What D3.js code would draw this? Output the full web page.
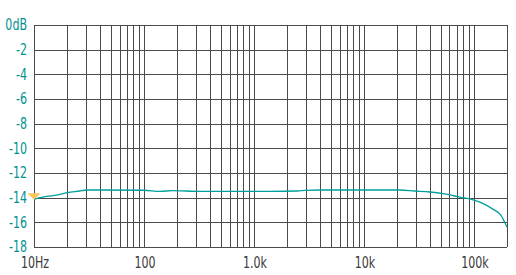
<!DOCTYPE html>
<html>
<head>
<meta charset="utf-8">
<script src="https://cdn.jsdelivr.net/npm/d3@7"></script>
<style>
  html, body { margin: 0; padding: 0; background: #fff; }
  svg { display: block; }
  text { font-family: "DejaVu Sans Condensed", "DejaVu Sans", sans-serif; font-size: 15px; }
</style>
</head>
<body>
<div id="chart"></div>
<script>
// response curve
const freqs = [10, 13, 16, 20, 26, 30, 40, 100, 140, 180, 320, 1400, 2500, 2900, 4000,
    21000, 29000, 40000, 54000, 74000, 100000, 123000, 150000, 175000, 200000];
const levels = [-14.13, -13.9, -13.8, -13.6, -13.46, -13.38, -13.38, -13.4, -13.49, -13.43, -13.49, -13.49, -13.46, -13.41, -13.38,
    -13.38, -13.46, -13.54, -13.7, -13.95, -14.19, -14.5, -14.95, -15.4, -16.4];
const dbTicks = [0, -2, -4, -6, -8, -10, -12, -14, -16, -18];
const freqLabels = [[10, '10Hz'], [100, '100'], [1000, '1.0k'], [10000, '10k'], [100000, '100k']];
const markerLevel = -14;

const width = 516, height = 275;
const margin = { top: 25, right: 9, bottom: 28, left: 34 };
const squeeze = 0.82; // the original font is narrow

const svg = d3.select('#chart').append('svg')
    .attr('width', width).attr('height', height);

const x = d3.scaleLog().domain([10, 200000]).range([margin.left, width - margin.right]);
const y = d3.scaleLinear().domain([-18, 0]).range([height - margin.bottom, margin.top]);

// grid: every 1..9 step per decade
const gridF = [];
for (let dec = 10; dec <= 100000; dec *= 10) {
    for (let k = 1; k <= 9; k++) if (dec * k <= 200000) gridF.push(dec * k);
}
gridF.push(200000);

const grid = svg.append('g').attr('stroke', '#4a4a4a').attr('stroke-width', 1).attr('shape-rendering', 'crispEdges');
grid.selectAll('line.v').data(gridF).enter().append('line')
    .attr('x1', (d) => Math.round(x(d)) + 0.5).attr('x2', (d) => Math.round(x(d)) + 0.5)
    .attr('y1', y(0)).attr('y2', y(-18));
grid.selectAll('line.h').data(dbTicks).enter().append('line')
    .attr('x1', x(10)).attr('x2', x(200000))
    .attr('y1', (d) => Math.round(y(d)) + 0.5).attr('y2', (d) => Math.round(y(d)) + 0.5);

// y labels
svg.append('g').selectAll('text').data(dbTicks).enter().append('text')
    .attr('transform', (d) => `translate(${margin.left - 7},${y(d)}) scale(${squeeze},1)`)
    .attr('dy', '0.36em')
    .attr('text-anchor', 'end')
    .attr('fill', '#00918f')
    .text((d) => d === 0 ? '0dB' : '-' + Math.abs(d));

// x labels
svg.append('g').selectAll('text').data(freqLabels).enter().append('text')
    .attr('transform', (d) => `translate(${x(d[0]) + 1},${height - 7}) scale(${squeeze},1)`)
    .attr('text-anchor', 'middle')
    .attr('fill', '#3a3a3a')
    .text((d) => d[1]);

// curve
const line = d3.line().x((d) => x(d[0])).y((d) => y(d[1])).curve(d3.curveMonotoneX);
svg.append('path')
    .datum(freqs.map((f, i) => [f, levels[i]]))
    .attr('fill', 'none')
    .attr('stroke', '#00a09c')
    .attr('stroke-width', 1.3)
    .attr('d', line);

// marker
const mx = x(10), my = y(markerLevel) + 2;
svg.append('path')
    .attr('d', `M${mx - 6.5},${my - 6.5} L${mx + 6.5},${my - 6.5} L${mx},${my} Z`)
    .attr('fill', '#fcc45c');
</script>
</body>
</html>
